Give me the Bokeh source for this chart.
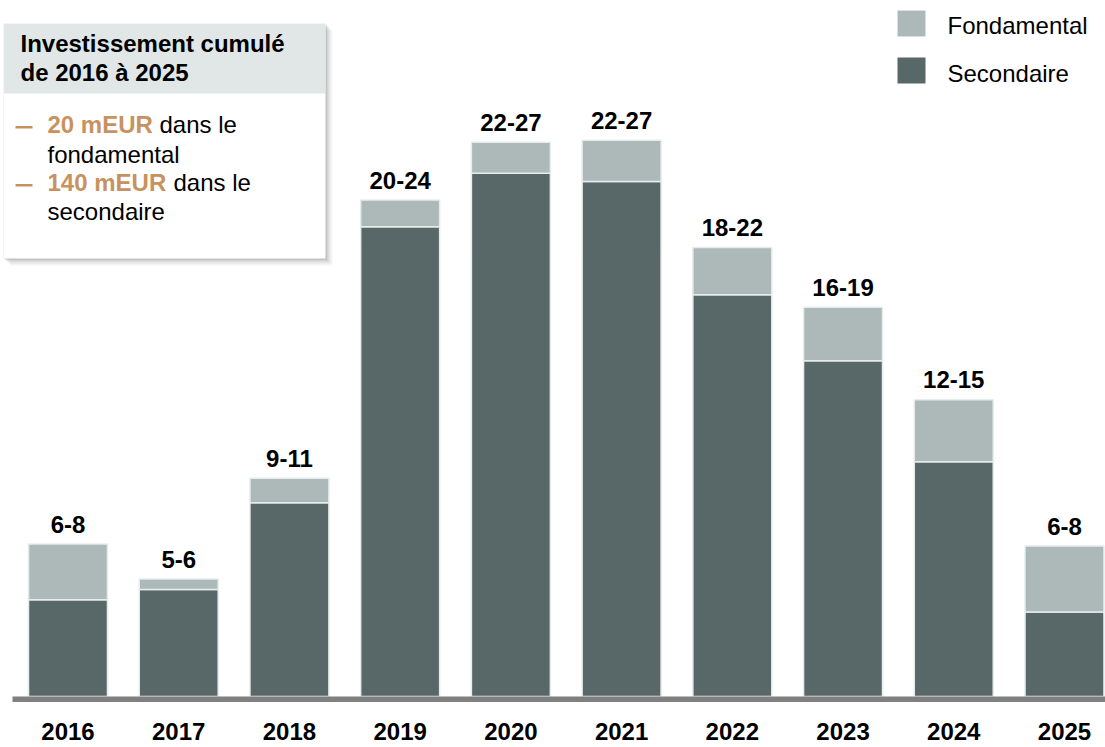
from bokeh.plotting import figure
from bokeh.models import Range1d, BoxAnnotation, Label, ColumnDataSource
from bokeh.core.properties import value
from bokeh.embed import file_html
from bokeh.resources import INLINE

# ---- data ----
years = ["2016", "2017", "2018", "2019", "2020", "2021", "2022", "2023", "2024", "2025"]
secondaire = [4.7, 5.2, 9.4, 22.8, 25.4, 25.0, 19.5, 16.3, 11.4, 4.1]
fondamental = [2.7, 0.5, 1.2, 1.3, 1.5, 2.0, 2.3, 2.6, 3.0, 3.2]
range_labels = ["6-8", "5-6", "9-11", "20-24", "22-27", "22-27", "18-22", "16-19", "12-15", "6-8"]
box_title = ["Investissement cumulé", "de 2016 à 2025"]
box_items = [("20 mEUR", "dans le", "fondamental"), ("140 mEUR", "dans le", "secondaire")]
legend_names = ["Fondamental", "Secondaire"]

# ---- layout constants (picture pixels) ----
W, H = 1105, 747
LEFT, TOP = 0, 0
PX_X = 110.72          # px per category step
X_FIRST = 67.5         # x of first bar centre
PX_Y = 20.6            # px per unit
Y_BASE = 696           # y of zero
TXT = 9                # empirical baseline correction (px)

x0 = -(X_FIRST - LEFT) / PX_X
x1 = x0 + W / PX_X
y1 = (Y_BASE - TOP) / PX_Y
y0 = -(TOP + H - Y_BASE) / PX_Y

def dx(px):
    return x0 + (px - LEFT) / PX_X

def dy(py):
    return (Y_BASE - py) / PX_Y

SEC = "#586767"
FUND = "#adb8b8"
EDGE = "#e6ecec"
ORANGE = "#c8925e"
FONT = "Liberation Sans"
FS = "24px"

p = figure(width=W, height=H, output_backend="svg", toolbar_location=None,
           x_range=Range1d(x0, x1), y_range=Range1d(y0, y1),
           min_border=0, min_border_left=0, min_border_right=0,
           min_border_top=0, min_border_bottom=0)
p.xaxis.visible = False
p.yaxis.visible = False
p.xgrid.visible = False
p.ygrid.visible = False
p.outline_line_color = None
p.background_fill_color = "white"
p.border_fill_color = "white"

idx = list(range(len(years)))
totals = [s + f for s, f in zip(secondaire, fondamental)]
src = ColumnDataSource(dict(x=idx, sec=secondaire, fund=fondamental, top=totals,
                            lab=range_labels, yr=years,
                            laby=[t + (11 + TXT) / PX_Y for t in totals],
                            yry=[dy(740 - TXT)] * len(years)))

p.vbar(x="x", bottom=0, top="sec", width=0.713, source=src,
       fill_color=SEC, line_color=EDGE, line_width=1.5)
p.vbar(x="x", bottom="sec", top="top", width=0.713, source=src,
       fill_color=FUND, line_color=EDGE, line_width=1.5)

# baseline
p.add_layout(BoxAnnotation(bottom=dy(701.5), top=dy(696), left=dx(12), right=dx(1105),
                           fill_color="#808080", fill_alpha=1, line_color=None))

p.text(x="x", y="laby", text="lab", source=src, text_align="center",
       text_baseline="alphabetic", text_font=value(FONT), text_font_size=FS,
       text_font_style="bold", text_color="#000000")
p.text(x="x", y="yry", text="yr", source=src, text_align="center",
       text_baseline="alphabetic", text_font=value(FONT), text_font_size=FS,
       text_font_style="bold", text_color="#000000")

# ---- info box ----
bx_l, bx_r, bx_t, bx_b, hd_b = 3, 325, 23, 258, 93
for off, a in [(7, 0.10), (5, 0.16), (3, 0.25), (1.5, 0.3)]:
    p.add_layout(BoxAnnotation(left=dx(bx_l + off), right=dx(bx_r + off),
                               top=dy(bx_t + off), bottom=dy(bx_b + off),
                               fill_color="#9a9a9a", fill_alpha=a, line_color=None))
p.add_layout(BoxAnnotation(left=dx(bx_l), right=dx(bx_r), top=dy(bx_t), bottom=dy(bx_b),
                           fill_color="white", fill_alpha=1, line_color="#d9dfdf",
                           line_width=1))
p.add_layout(BoxAnnotation(left=dx(bx_l + 0.5), right=dx(bx_r - 0.5), top=dy(bx_t + 0.5),
                           bottom=dy(hd_b), fill_color="#e1e7e7", fill_alpha=1,
                           line_color=None))

def label(px, py, txt, bold=False, color="#000000", align="left"):
    p.add_layout(Label(x=dx(px), y=dy(py - TXT), text=txt, text_font=FONT, text_font_size=FS,
                       text_font_style="bold" if bold else "normal", text_color=color,
                       text_align=align, text_baseline="alphabetic"))

label(20, 52, box_title[0], bold=True)
label(20, 81, box_title[1], bold=True)

item_rows = [(133, 163), (191, 220)]
dans_x = [159, 173]
for (val, mid, rest), (ya, yb), dxp in zip(box_items, item_rows, dans_x):
    p.add_layout(BoxAnnotation(left=dx(15), right=dx(32), top=dy(ya - 7.5), bottom=dy(ya - 5),
                               fill_color=ORANGE, fill_alpha=1, line_color=None))
    label(47, ya, val, bold=True, color=ORANGE)
    label(dxp, ya, mid)
    label(47, yb, rest)

# ---- legend ----
for name, col, (st, sb), base in zip(legend_names, [FUND, SEC], [(10, 36), (57, 83)], [34, 82]):
    p.add_layout(BoxAnnotation(left=dx(897), right=dx(925), top=dy(st), bottom=dy(sb),
                               fill_color=col, fill_alpha=1,
                               line_color=EDGE if col == FUND else None, line_width=1))
    label(947, base, name)

open("out.html", "w").write(file_html(p, INLINE))
